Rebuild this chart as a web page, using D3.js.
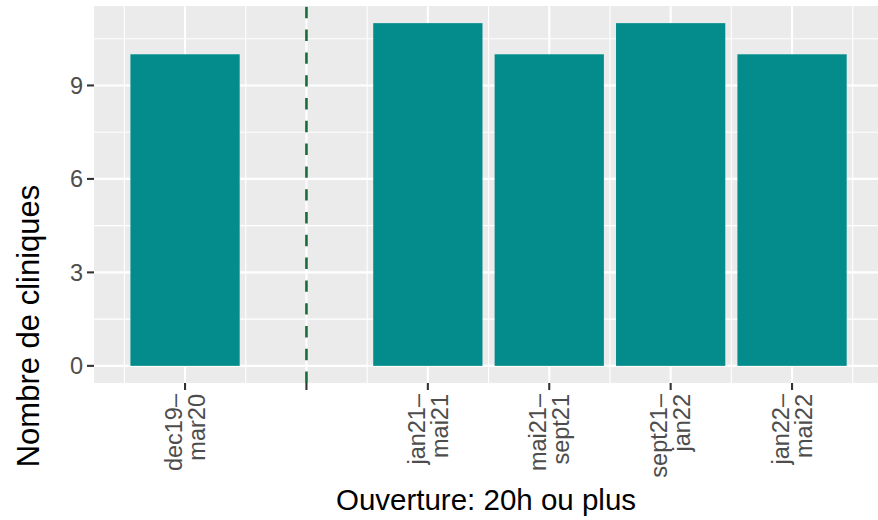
<!DOCTYPE html>
<html>
<head>
<meta charset="utf-8">
<script src="https://cdn.jsdelivr.net/npm/d3@7/dist/d3.min.js"></script>
<style>
  html, body { margin: 0; padding: 0; background: #ffffff; }
  svg { display: block; font-family: "Liberation Sans", Arial, Helvetica, sans-serif; }
</style>
</head>
<body>
<svg id="chart" width="878" height="520"></svg>
<script>
// ---- data ----
const categories = ["dec19-mar20", "gap", "jan21-mai21", "mai21-sept21", "sept21-jan22", "jan22-mai22"];
const tickLabels = [["dec19–", "mar20"], [], ["jan21–", "mai21"], ["mai21–", "sept21"], ["sept21–", "jan22"], ["jan22–", "mai22"]];
const values = [10, null, 11, 10, 11, 10];
const yTicks = [0, 3, 6, 9];
const yMinor = [1.5, 4.5, 7.5, 10.5];
const vlineCategory = "gap";
const xTitle = "Ouverture: 20h ou plus";
const yTitle = "Nombre de cliniques";

// ---- layout ----
const W = 878, H = 520;
const panel = { left: 94, top: 6, bottom: 383, right: 878 };
const step = 121.4;
const svg = d3.select("#chart");

const x = d3.scalePoint()
  .domain(categories)
  .range([panel.left + 0.75 * step, panel.left + 0.75 * step + (categories.length - 1) * step]);
const y = d3.scaleLinear()
  .domain([0 - 0.55, 11 + 0.55])
  .range([panel.bottom, panel.top]);

// panel background
svg.append("rect")
  .attr("x", panel.left).attr("y", panel.top)
  .attr("width", panel.right - panel.left).attr("height", panel.bottom - panel.top)
  .attr("fill", "#ebebeb");

svg.append("clipPath").attr("id", "pclip").append("rect")
  .attr("x", panel.left).attr("y", panel.top)
  .attr("width", panel.right - panel.left).attr("height", panel.bottom - panel.top);

const g = svg.append("g").attr("clip-path", "url(#pclip)");

// minor gridlines
yMinor.forEach(v => {
  g.append("line").attr("x1", panel.left).attr("x2", panel.right)
    .attr("y1", y(v)).attr("y2", y(v))
    .attr("stroke", "#ffffff").attr("stroke-width", 1.1);
});
const xMinor = d3.range(-1, categories.length).map(i => x(categories[0]) + (i + 0.5) * x.step());
xMinor.forEach(px => {
  g.append("line").attr("y1", panel.top).attr("y2", panel.bottom)
    .attr("x1", px).attr("x2", px)
    .attr("stroke", "#ffffff").attr("stroke-width", 1.1);
});
// major gridlines
yTicks.forEach(v => {
  g.append("line").attr("x1", panel.left).attr("x2", panel.right)
    .attr("y1", y(v)).attr("y2", y(v))
    .attr("stroke", "#ffffff").attr("stroke-width", 2.1);
});
categories.forEach(c => {
  g.append("line").attr("y1", panel.top).attr("y2", panel.bottom)
    .attr("x1", x(c)).attr("x2", x(c))
    .attr("stroke", "#ffffff").attr("stroke-width", 2.1);
});

// bars
const barW = 0.9 * x.step();
g.selectAll("rect.bar")
  .data(categories.map((c, i) => ({ c, v: values[i] })).filter(d => d.v != null))
  .enter().append("rect")
  .attr("class", "bar")
  .attr("x", d => x(d.c) - barW / 2)
  .attr("width", barW)
  .attr("y", d => y(d.v))
  .attr("height", d => y(0) - y(d.v))
  .attr("fill", "#048c8c");

// dashed vertical line (drawn bottom to top)
g.append("line")
  .attr("x1", x(vlineCategory)).attr("x2", x(vlineCategory))
  .attr("y1", panel.bottom).attr("y2", panel.top)
  .attr("stroke", "#166f39").attr("stroke-width", 2.6)
  .attr("stroke-dasharray", "11.4,11.4");

// y axis ticks & labels
const tickLen = 7;
const tickFont = 23.5;
yTicks.forEach(v => {
  svg.append("line").attr("x1", panel.left - tickLen).attr("x2", panel.left)
    .attr("y1", y(v)).attr("y2", y(v))
    .attr("stroke", "#333333").attr("stroke-width", 2.1);
  svg.append("text").attr("x", panel.left - tickLen - 4).attr("y", y(v))
    .attr("dy", "0.36em").attr("text-anchor", "end")
    .attr("font-size", tickFont).attr("fill", "#4d4d4d").text(v);
});

// x axis ticks & labels
const lh = 23;
categories.forEach((c, i) => {
  svg.append("line").attr("x1", x(c)).attr("x2", x(c))
    .attr("y1", panel.bottom).attr("y2", panel.bottom + tickLen)
    .attr("stroke", "#333333").attr("stroke-width", 2.1);
  const lines = tickLabels[i];
  if (!lines.length) return;
  const t = svg.append("text")
    .attr("transform", `translate(${x(c)},${panel.bottom + tickLen + 4}) rotate(-90)`)
    .attr("text-anchor", "end").attr("font-size", tickFont).attr("fill", "#4d4d4d");
  lines.forEach((ln, k) => {
    t.append("tspan").attr("x", 0)
      .attr("y", (k - (lines.length - 1) / 2) * lh + 8.2)
      .text(ln);
  });
});

// axis titles
svg.append("text")
  .attr("x", (panel.left + panel.right) / 2).attr("y", 510)
  .attr("text-anchor", "middle").attr("font-size", 29.5).attr("fill", "#000000")
  .text(xTitle);
svg.append("text")
  .attr("transform", `translate(39,326) rotate(-90)`)
  .attr("text-anchor", "middle").attr("font-size", 31).attr("fill", "#000000")
  .text(yTitle);
</script>
</body>
</html>
